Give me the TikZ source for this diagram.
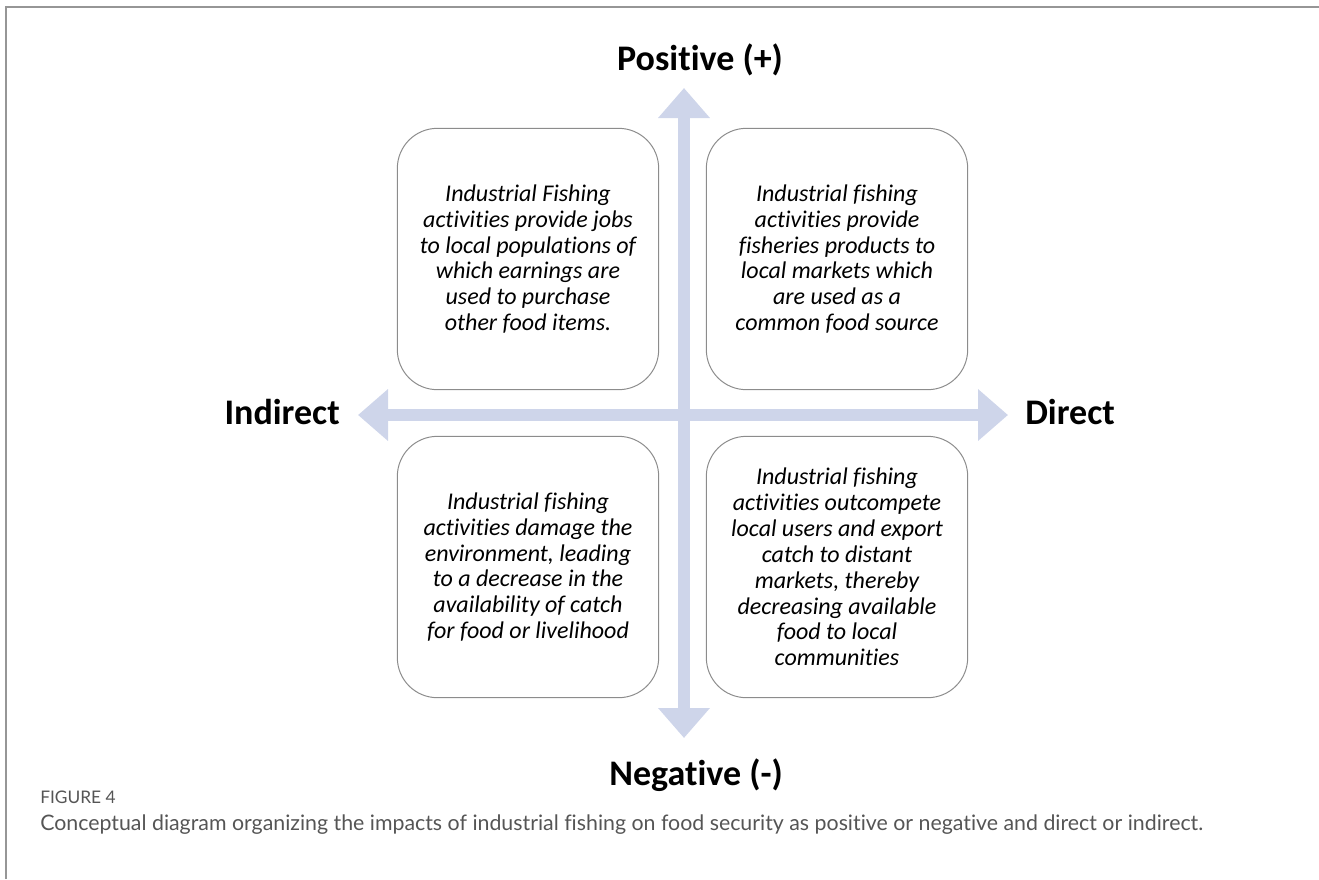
\documentclass[tikz,border=0pt]{standalone}
\usepackage{fontspec}
\setmainfont{Carlito}[Ligatures=NoCommon]
\newfontfamily\capfont{Lato}[Ligatures=NoCommon]
\usetikzlibrary{arrows.meta}

\definecolor{axisblue}{RGB}{206,213,234}
\definecolor{boxgray}{RGB}{140,140,140}
\definecolor{framegray}{RGB}{150,150,150}
\definecolor{capgray}{RGB}{85,85,85}

\begin{document}
\begin{tikzpicture}[x=0.75pt, y=-0.75pt,
    impactbox/.style = {draw=boxgray, line width=0.75pt, rounded corners=30pt,
        minimum width=196pt, minimum height=196pt, inner sep=0pt, align=center,
        font=\fontsize{18}{19.4}\selectfont\itshape},
    axislabel/.style = {font=\fontsize{27}{31}\selectfont\bfseries, inner sep=0pt},
    axisarrow/.style = {axisblue, line width=9pt,
        {Triangle[width=37.5pt,length=22.5pt]}-{Triangle[width=37.5pt,length=22.5pt]}}]
\useasboundingbox (0,0) rectangle (1319,879);

% frame on top and left
\coordinate (fbl) at (6,879);
\coordinate (ftl) at (6,7);
\coordinate (ftr) at (1319,7);
\draw [framegray, line width=1.5pt] (fbl) -- (ftl) -- (ftr);

% the two axes
\coordinate (ptop) at (684,88);
\coordinate (pbot) at (684,738);
\coordinate (pleft) at (358,415);
\coordinate (pright) at (1008,415);
\draw [axisarrow] (pbot) -- (ptop); %positive / negative
\draw [axisarrow] (pleft) -- (pright); %indirect / direct

% axis labels
\node [axislabel, anchor=base] (pos) at (700,70) {Positive (+)};
\node [axislabel, anchor=base] (neg) at (696,785) {Negative (-)};
\node [axislabel, anchor=base east] (indir) at (340,424) {Indirect};
\node [axislabel, anchor=base west] (dir) at (1025,424) {Direct};

% quadrants
\node [impactbox] (posindir) at (528,259) {Industrial Fishing\\activities provide jobs\\to local populations of\\which earnings are\\used to purchase\\other food items.};
\node [impactbox] (posdir) at (837,259) {Industrial fishing\\activities provide\\fisheries products to\\local markets which\\are used as a\\common food source};
\node [impactbox] (negindir) at (528,567) {Industrial fishing\\activities damage the\\environment, leading\\to a decrease in the\\availability of catch\\for food or livelihood};
\node [impactbox] (negdir) at (837,567) {Industrial fishing\\activities outcompete\\local users and export\\catch to distant\\markets, thereby\\decreasing available\\food to local\\communities};

% caption
\node [anchor=base west, inner sep=0pt, capgray, font=\capfont\fontsize{13}{15}\selectfont] (fignum) at (40,803) {FIGURE 4};
\node [anchor=base west, inner sep=0pt, capgray, font=\capfont\fontsize{16}{19}\selectfont] (figcap) at (40,830) {Conceptual diagram organizing the impacts of industrial fishing on food security as positive or negative and direct or indirect.};
\end{tikzpicture}
\end{document}
